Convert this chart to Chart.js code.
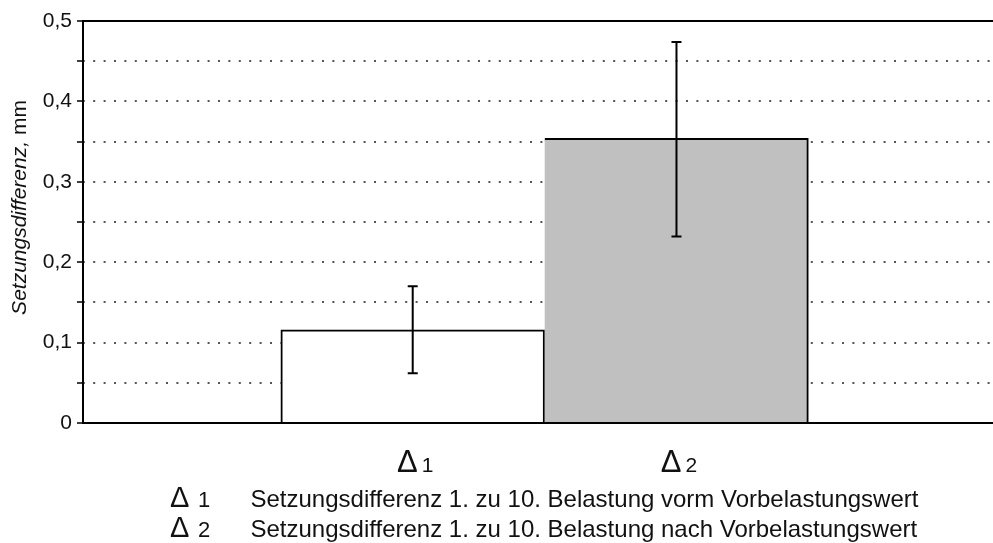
<!DOCTYPE html>
<html lang="de">
<head>
<meta charset="UTF-8">
<title>Setzungsdifferenz</title>
<script src="https://cdn.jsdelivr.net/npm/chart.js@4"></script>
<style>
    * { margin: 0; padding: 0; box-sizing: border-box; }
    body { background: #fff; overflow: hidden; }
    .wrap { width: 993px; height: 543px; position: relative; }
</style>
</head>
<body>
<div class="wrap"><canvas id="chart"></canvas></div>
<script>
// data
const categories = ['1', '2'];                 // drawn as Δ1, Δ2
const meanValues = [0.116, 0.354];
const errLow = [0.062, 0.232];
const errHigh = [0.170, 0.474];
const barColors = ['#ffffff', '#c0c0c0'];
const yTickLabels = ['0', '0,1', '0,2', '0,3', '0,4', '0,5'];
const legendTexts = [
    'Setzungsdifferenz 1. zu 10. Belastung vorm Vorbelastungswert',
    'Setzungsdifferenz 1. zu 10. Belastung nach Vorbelastungswert'
];
const yTitle = ['Setzungsdifferenz,', ' mm'];

const FONT = '"Liberation Sans", Arial, sans-serif';
Chart.defaults.font.family = FONT;

// error bars + the extra texts
const annotate = {
    id: 'annotate',
    afterDatasetsDraw(chart) {
        const ctx = chart.ctx;
        const y = chart.scales.y;
        const meta = chart.getDatasetMeta(0);
        ctx.save();
        ctx.strokeStyle = '#000';
        ctx.lineWidth = 2;
        meta.data.forEach((bar, i) => {
            const yl = y.getPixelForValue(errLow[i]);
            const yh = y.getPixelForValue(errHigh[i]);
            ctx.beginPath();
            ctx.moveTo(bar.x, yl);
            ctx.lineTo(bar.x, yh);
            ctx.moveTo(bar.x - 5, yl);
            ctx.lineTo(bar.x + 5, yl);
            ctx.moveTo(bar.x - 5, yh);
            ctx.lineTo(bar.x + 5, yh);
            ctx.stroke();
        });
        ctx.restore();
    },
    afterDraw(chart) {
        const ctx = chart.ctx;
        const x = chart.scales.x;
        ctx.save();
        ctx.fillStyle = '#111';
        ctx.textBaseline = 'alphabetic';

        // x category labels
        categories.forEach((c, i) => {
            const cx = x.getPixelForValue(i + 1);
            ctx.font = '31px ' + FONT;
            ctx.textAlign = 'right';
            ctx.fillText('Δ', cx + 5, 472);
            ctx.font = '21px ' + FONT;
            ctx.textAlign = 'left';
            ctx.fillText(c, cx + 9, 472);
        });

        // legend lines
        const rows = [506.5, 536.7];
        legendTexts.forEach((t, i) => {
            ctx.textAlign = 'left';
            ctx.font = '29px ' + FONT;
            ctx.fillText('Δ', 170, rows[i]);
            ctx.font = '22px ' + FONT;
            ctx.fillText(categories[i], 198, rows[i]);
            ctx.font = '24px ' + FONT;
            ctx.fillText(t, 250.5, rows[i]);
        });

        // y axis title, italic word + upright unit
        ctx.translate(25.5, 207.5);
        ctx.rotate(-Math.PI / 2);
        ctx.font = 'italic 21px ' + FONT;
        const w1 = ctx.measureText(yTitle[0]).width;
        ctx.font = '21px ' + FONT;
        const w2 = ctx.measureText(yTitle[1]).width;
        const sx = -(w1 + w2) / 2;
        ctx.textAlign = 'left';
        ctx.font = 'italic 21px ' + FONT;
        ctx.fillText(yTitle[0], sx, 0);
        ctx.font = '21px ' + FONT;
        ctx.fillText(yTitle[1], sx + w1, 0);
        ctx.restore();
    }
};

new Chart(document.getElementById('chart'), {
    type: 'bar',
    data: {
        datasets: [{
            data: meanValues.map((v, i) => ({ x: i + 1, y: v })),
            backgroundColor: barColors,
            borderColor: '#000',
            // second bar shares its left edge with the first one
            borderWidth: ctx => ctx.dataIndex === 1
                ? { top: 2, right: 2, bottom: 0, left: 0 }
                : { top: 2, right: 2, bottom: 0, left: 2 },
            categoryPercentage: 1,
            barPercentage: 1
        }]
    },
    options: {
        responsive: true,
        maintainAspectRatio: false,
        animation: false,
        layout: { padding: { top: 21, bottom: 120, left: 0, right: 0 } },
        plugins: { legend: { display: false }, tooltip: { enabled: false } },
        scales: {
            x: {
                type: 'linear',
                min: -0.25,
                max: 3.2,
                offset: false,
                afterBuildTicks: s => { s.ticks = categories.map((c, i) => ({ value: i + 1 })); },
                ticks: { display: false },
                grid: { display: false, drawTicks: false, offset: false },
                border: { display: true, color: '#000', width: 2 }
            },
            top: {
                type: 'linear',
                axis: 'x',
                position: 'top',
                min: 0,
                max: 1,
                offset: false,
                ticks: { display: false },
                grid: { display: false, drawTicks: false, offset: false },
                border: { display: true, color: '#000', width: 2 }
            },
            y: {
                min: 0,
                max: 0.5,
                afterFit: s => { s.width = 83; },
                ticks: {
                    stepSize: 0.05,
                    padding: 5,
                    color: '#111',
                    font: { size: 21 },
                    callback: v => {
                        const k = Math.round(v * 100);
                        return k % 10 === 0 ? yTickLabels[k / 10] : '';
                    }
                },
                grid: {
                    color: c => {
                        const k = Math.round(c.tick.value * 100);
                        return (k === 0 || k === 50) ? 'rgba(0,0,0,0)' : '#555';
                    },
                    lineWidth: 2,
                    tickColor: '#000',
                    tickWidth: 1.5,
                    tickLength: 6
                },
                border: { display: true, color: '#000', width: 2, dash: [2, 8.4], dashOffset: 1.2 }
            }
        }
    },
    plugins: [annotate]
});
</script>
</body>
</html>
